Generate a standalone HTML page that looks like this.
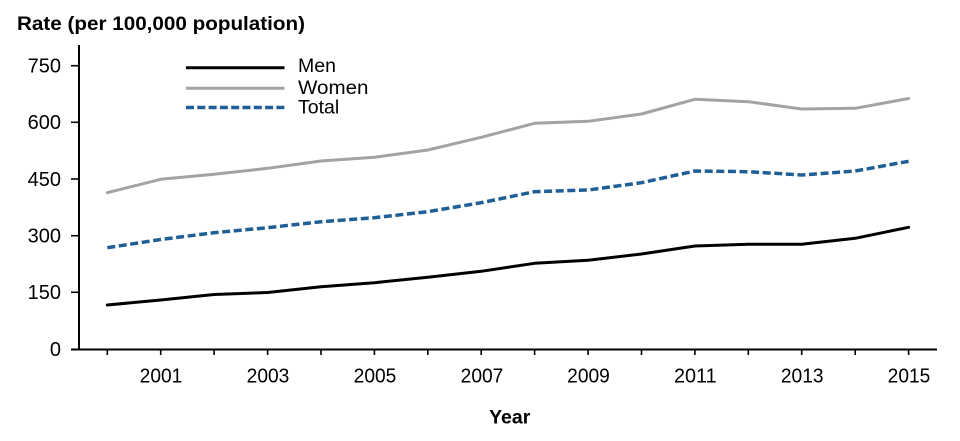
<!DOCTYPE html>
<html>
<head>
<meta charset="utf-8">
<style>
html,body{margin:0;padding:0;background:#fff;}
svg{display:block;}
text{font-family:"Liberation Sans",Arial,sans-serif;}
</style>
</head>
<body>
<svg width="960" height="441" viewBox="0 0 960 441" xmlns="http://www.w3.org/2000/svg">
  <rect width="960" height="441" fill="#fff"/>
  <!-- Title -->
  <text x="17" y="30" font-size="19.5" font-weight="bold" fill="#000" textLength="288" lengthAdjust="spacingAndGlyphs">Rate (per 100,000 population)</text>

  <!-- Axes -->
  <line x1="79" y1="45" x2="79" y2="350" stroke="#000" stroke-width="2"/>
  <line x1="71" y1="349.5" x2="937" y2="349.5" stroke="#000" stroke-width="2"/>

  <!-- Y ticks -->
  <g stroke="#000" stroke-width="1.6">
    <line x1="71" y1="65.7" x2="79" y2="65.7"/>
    <line x1="71" y1="122.3" x2="79" y2="122.3"/>
    <line x1="71" y1="179" x2="79" y2="179"/>
    <line x1="71" y1="235.7" x2="79" y2="235.7"/>
    <line x1="71" y1="292.3" x2="79" y2="292.3"/>
  </g>
  <g font-size="20" text-anchor="end" fill="#000">
    <text x="61" y="72.5">750</text>
    <text x="61" y="129.1">600</text>
    <text x="61" y="185.8">450</text>
    <text x="61" y="242.5">300</text>
    <text x="61" y="299.1">150</text>
    <text x="61" y="355.8">0</text>
  </g>

  <!-- X ticks -->
  <g stroke="#000" stroke-width="1.6">
    <line x1="107.3" y1="349" x2="107.3" y2="355"/>
    <line x1="160.7" y1="349" x2="160.7" y2="355"/>
    <line x1="214.1" y1="349" x2="214.1" y2="355"/>
    <line x1="267.6" y1="349" x2="267.6" y2="355"/>
    <line x1="321.0" y1="349" x2="321.0" y2="355"/>
    <line x1="374.4" y1="349" x2="374.4" y2="355"/>
    <line x1="427.8" y1="349" x2="427.8" y2="355"/>
    <line x1="481.2" y1="349" x2="481.2" y2="355"/>
    <line x1="534.6" y1="349" x2="534.6" y2="355"/>
    <line x1="588.1" y1="349" x2="588.1" y2="355"/>
    <line x1="641.5" y1="349" x2="641.5" y2="355"/>
    <line x1="694.9" y1="349" x2="694.9" y2="355"/>
    <line x1="748.3" y1="349" x2="748.3" y2="355"/>
    <line x1="801.7" y1="349" x2="801.7" y2="355"/>
    <line x1="855.2" y1="349" x2="855.2" y2="355"/>
    <line x1="908.6" y1="349" x2="908.6" y2="355"/>
  </g>
  <g font-size="20" text-anchor="middle" fill="#000">
    <text x="161" y="382.3" textLength="42.7" lengthAdjust="spacingAndGlyphs">2001</text>
    <text x="268" y="382.3" textLength="42.7" lengthAdjust="spacingAndGlyphs">2003</text>
    <text x="375" y="382.3" textLength="42.7" lengthAdjust="spacingAndGlyphs">2005</text>
    <text x="482" y="382.3" textLength="42.7" lengthAdjust="spacingAndGlyphs">2007</text>
    <text x="588.5" y="382.3" textLength="42.7" lengthAdjust="spacingAndGlyphs">2009</text>
    <text x="695.3" y="382.3" textLength="42.7" lengthAdjust="spacingAndGlyphs">2011</text>
    <text x="802.2" y="382.3" textLength="42.7" lengthAdjust="spacingAndGlyphs">2013</text>
    <text x="909" y="382.3" textLength="42.7" lengthAdjust="spacingAndGlyphs">2015</text>
  </g>
  <text x="509.7" y="423.3" font-size="19.5" font-weight="bold" text-anchor="middle" fill="#000">Year</text>

  <!-- Women -->
  <polyline fill="none" stroke="#a3a3a3" stroke-width="3" stroke-linejoin="round" stroke-linecap="round"
    points="107.3,192.7 160.7,179.3 214.1,174.3 267.6,168.3 321.0,161 374.4,157.3 427.8,150 481.2,137.3 534.6,123.3 588.1,121.3 641.5,114 694.9,99.3 748.3,101.7 801.7,109 855.2,108.3 908.6,98.5"/>

  <!-- Total -->
  <polyline fill="none" stroke="#1f5f96" stroke-width="3.5" stroke-dasharray="8 3.6" stroke-linejoin="round"
    points="107.3,247.7 160.7,239.5 214.1,232.7 267.6,227.7 321.0,221.7 374.4,217.7 427.8,211.7 481.2,202.7 534.6,191.7 588.1,190 641.5,182.7 694.9,171 748.3,171.7 801.7,175 855.2,171 908.6,161.3"/>

  <!-- Men -->
  <polyline fill="none" stroke="#000" stroke-width="3" stroke-linejoin="round" stroke-linecap="round"
    points="107.3,305 160.7,300 214.1,294.5 267.6,292.5 321.0,286.7 374.4,282.7 427.8,277.3 481.2,271.3 534.6,263.3 588.1,260.3 641.5,254 694.9,246 748.3,244.3 801.7,244.3 855.2,238.3 908.6,227.3"/>

  <!-- Legend -->
  <line x1="186" y1="67.7" x2="284.5" y2="67.7" stroke="#000" stroke-width="3"/>
  <line x1="186" y1="88.3" x2="284.5" y2="88.3" stroke="#a3a3a3" stroke-width="3"/>
  <line x1="186" y1="107.5" x2="284.5" y2="107.5" stroke="#1f5f96" stroke-width="3.5" stroke-dasharray="8 3.3"/>
  <g font-size="19.5" fill="#000">
    <text x="298" y="72">Men</text>
    <text x="298" y="94" textLength="70.5" lengthAdjust="spacingAndGlyphs">Women</text>
    <text x="298" y="113.5">Total</text>
  </g>
</svg>
</body>
</html>
